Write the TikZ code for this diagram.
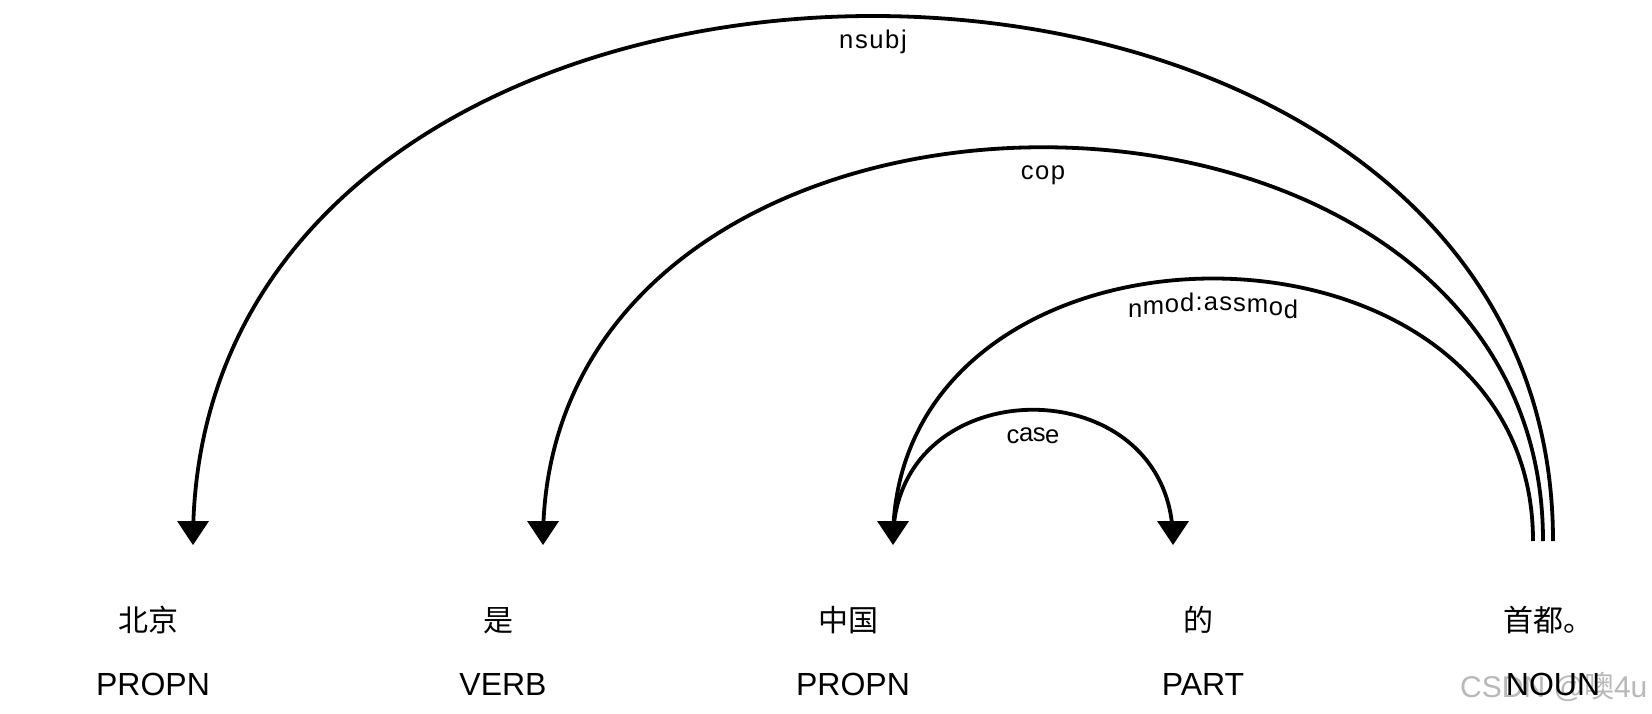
\documentclass[tikz,border=0pt]{standalone}
\usepackage{fontspec}
\setmainfont{Liberation Sans}
\newfontfamily\cjkfont{Noto Sans CJK SC}
\usetikzlibrary{decorations.text}
\newcommand\lblfont{\fontsize{25.6}{30}\selectfont}
\begin{document}
\begin{tikzpicture}[x=1pt,y=-1pt,
  arc/.style={line width=3.8pt},
  head/.style={fill=black},
  word/.style={anchor=base, inner sep=0pt, font=\cjkfont\fontsize{30}{34}\selectfont},
  tag/.style={anchor=base, inner sep=0pt, font=\fontsize{32}{38}\selectfont},
  wmark/.style={anchor=base west, inner sep=0pt, text=black!28, font=\fontsize{30}{34}\selectfont},
  lbl/.style={decorate, decoration={text effects along path, text={#1}, text align=center, raise=-26pt,
     text effects/.cd, every character/.style={font=\lblfont, inner xsep=1pt, inner ysep=0pt,
       text height=18pt, text depth=6pt}}}
]
\useasboundingbox (0,0) rectangle (1652,714);
\fill[white] (0,0) rectangle (1652,714);

% watermark
\node[wmark] (wm) at (1460,697) {CSDN @{\cjkfont 噢}4u};

% words and tags
\node[word] (w0) at (148,631) {北京};
\node[word] (w1) at (498,631) {是};
\node[word] (w2) at (848,631) {中国};
\node[word] (w3) at (1198,631) {的};
\node[word] (w4) at (1548,631) {首都。};
\node[tag] (t0) at (153,695) {PROPN};
\node[tag] (t1) at (503,695) {VERB};
\node[tag] (t2) at (853,695) {PROPN};
\node[tag] (t3) at (1203,695) {PART};
\node[tag] (t4) at (1553,695) {NOUN};

% arc end points
\coordinate (a0) at (193,541);
\coordinate (a1) at (543,541);
\coordinate (a2) at (893,541);
\coordinate (a3) at (1173,541);
\coordinate (b4) at (1553,541);
\coordinate (c4) at (1543,541);
\coordinate (d4) at (1533,541);

% arcs
\draw[arc] (a0) .. controls +(0,-700) and +(0,-700) .. (b4);
\draw[arc] (a1) .. controls +(0,-525) and +(0,-525) .. (c4);
\draw[arc] (a2) .. controls +(0,-350) and +(0,-350) .. (d4);
\draw[arc] (a2) .. controls +(0,-175) and +(0,-175) .. (a3);

% labels
\path[lbl={nsubj}] (a0) .. controls +(0,-700) and +(0,-700) .. (b4);
\path[lbl={cop}] (a1) .. controls +(0,-525) and +(0,-525) .. (c4);
\path[lbl={nmod:assmod}] (a2) .. controls +(0,-350) and +(0,-350) .. (d4);
\path[lbl={case}] (a2) .. controls +(0,-175) and +(0,-175) .. (a3);

% arrowheads
\fill[head] ([yshift=-4pt]a0) -- ++(-16,-24) -- ++(32,0) -- cycle;
\fill[head] ([yshift=-4pt]a1) -- ++(-16,-24) -- ++(32,0) -- cycle;
\fill[head] ([yshift=-4pt]a2) -- ++(-16,-24) -- ++(32,0) -- cycle;
\fill[head] ([yshift=-4pt]a3) -- ++(-16,-24) -- ++(32,0) -- cycle;
\end{tikzpicture}
\end{document}
